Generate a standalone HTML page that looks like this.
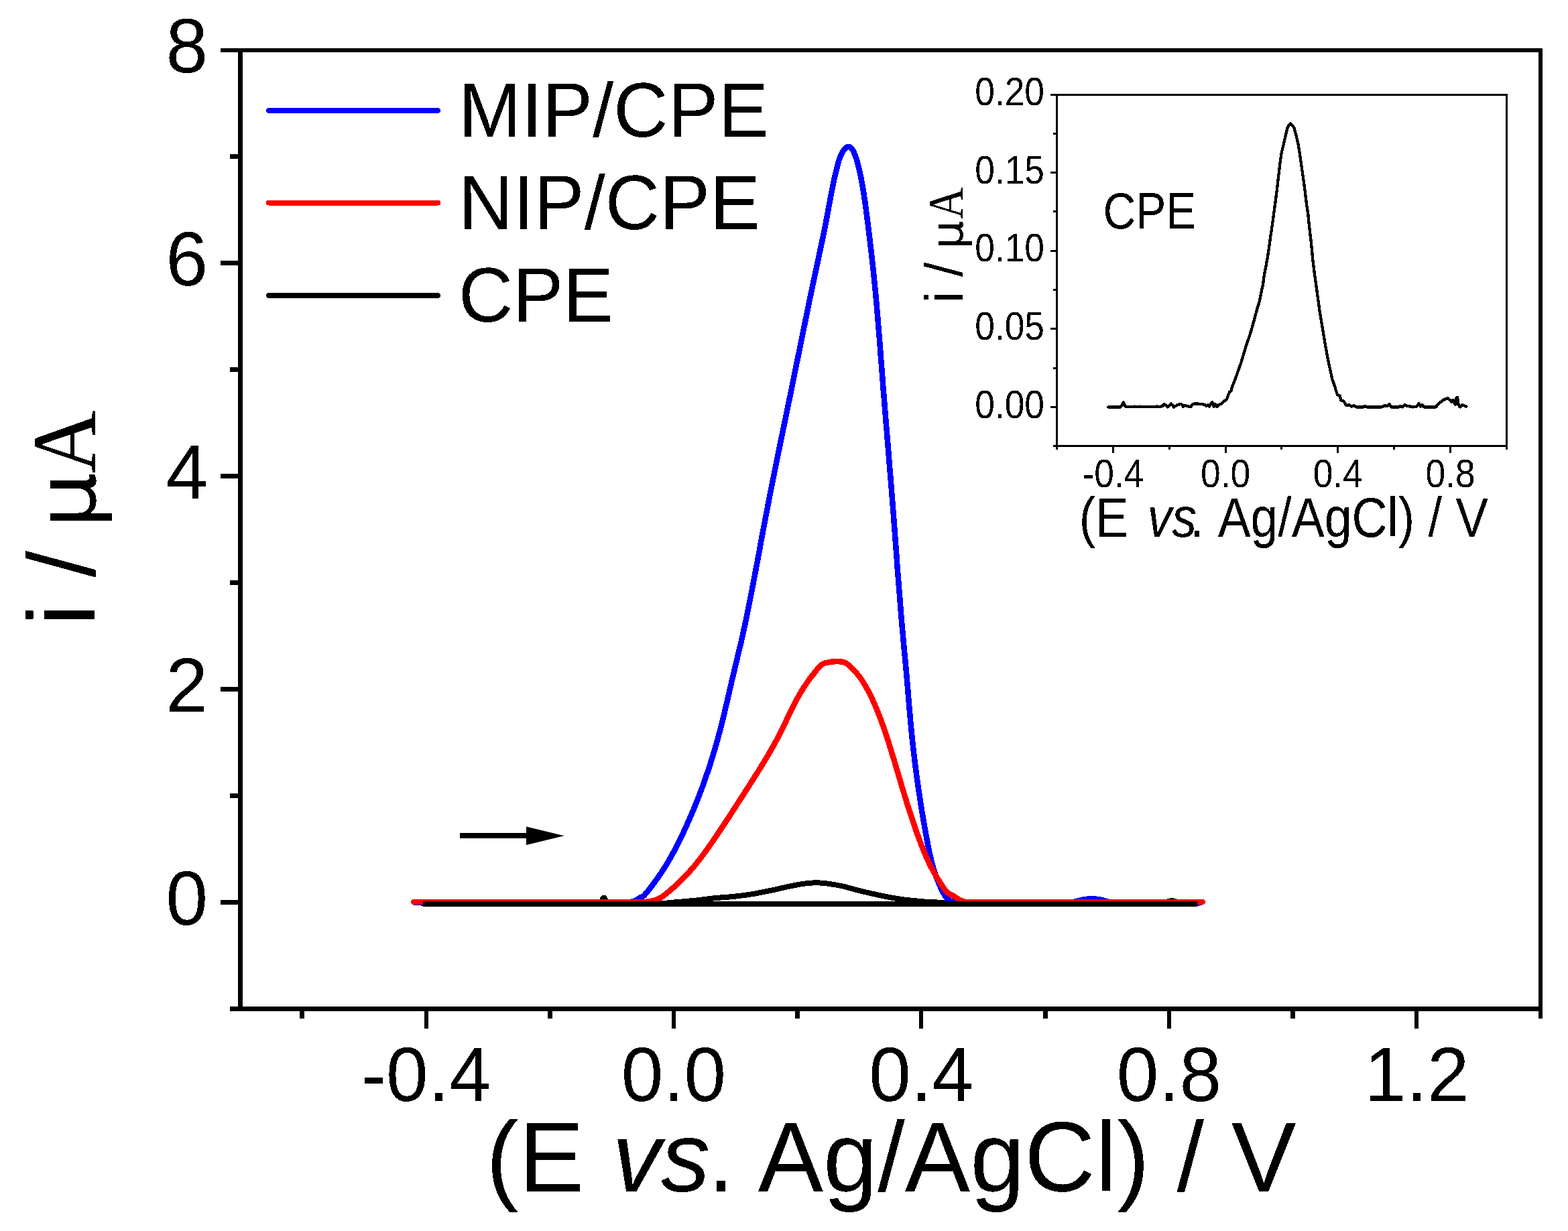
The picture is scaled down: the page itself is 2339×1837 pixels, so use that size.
<!DOCTYPE html>
<html lang="en"><head><meta charset="utf-8"><title>DPV: MIP/CPE, NIP/CPE, CPE</title>
<style>
html,body{margin:0;padding:0;background:#fff;}
body{width:2339px;height:1837px;overflow:hidden;}
svg{display:block;}
text{filter:url(#bin);font-family:"Liberation Sans",sans-serif;fill:#000;}
.ser{font-family:"Liberation Serif",serif;}
.dser{font-family:"DejaVu Sans","Liberation Sans",sans-serif;}
.ax{fill:#000;shape-rendering:crispEdges;}
.cv{fill:none;stroke-linecap:round;stroke-linejoin:round;shape-rendering:crispEdges;}
</style></head><body>
<svg width="2339" height="1837" viewBox="0 0 2339 1837">
<defs><filter id="bin" x="-5%" y="-5%" width="110%" height="110%" color-interpolation-filters="sRGB"><feComponentTransfer><feFuncA type="discrete" tableValues="0 1"/></feComponentTransfer></filter></defs>
<rect x="0" y="0" width="2339" height="1837" fill="#fff"/>
<g class="cv">
<path d="M631.0 1348.5 C718.3 1348.5 805.7 1349.6 893.0 1348.5 C894.8 1348.5 896.1 1346.4 897.3 1345.0 C898.7 1343.4 898.6 1339.6 900.7 1339.6 C902.8 1339.6 902.8 1343.4 904.1 1345.0 C905.2 1346.4 906.3 1348.4 908.0 1348.5 C930.3 1349.6 952.7 1348.7 975.0 1348.5 C980.0 1348.5 985.0 1348.2 990.0 1347.9 C997.1 1347.4 1004.2 1346.6 1011.3 1346.0 C1020.9 1345.1 1030.4 1344.4 1040.0 1343.4 C1049.2 1342.4 1058.4 1341.0 1067.6 1340.1 C1076.8 1339.2 1086.0 1338.8 1095.2 1337.8 C1104.4 1336.8 1113.6 1335.6 1122.8 1334.1 C1132.0 1332.6 1141.2 1330.7 1150.3 1328.8 C1159.5 1326.9 1168.7 1324.5 1177.9 1322.6 C1184.0 1321.3 1190.1 1320.1 1196.3 1319.1 C1200.2 1318.5 1204.1 1318.1 1208.0 1317.8 C1211.2 1317.5 1214.3 1317.3 1217.5 1317.3 C1220.7 1317.3 1223.8 1317.5 1227.0 1317.8 C1230.3 1318.1 1233.6 1318.4 1236.8 1318.9 C1243.0 1319.8 1249.1 1320.8 1255.2 1322.1 C1261.4 1323.4 1267.5 1325.3 1273.6 1326.9 C1279.7 1328.5 1285.8 1330.0 1292.0 1331.5 C1298.1 1332.9 1304.2 1334.3 1310.3 1335.6 C1316.4 1336.9 1322.5 1338.2 1328.7 1339.3 C1334.8 1340.4 1340.9 1341.5 1347.1 1342.3 C1353.2 1343.1 1359.4 1343.7 1365.5 1344.3 C1371.6 1344.9 1377.8 1345.5 1383.9 1345.9 C1389.3 1346.3 1394.6 1346.4 1400.0 1346.6 C1410.0 1347.1 1420.0 1347.8 1430.0 1348.0 C1453.3 1348.4 1476.7 1348.5 1500.0 1348.5 C1576.7 1348.6 1653.3 1349.3 1730.0 1348.5 C1733.4 1348.5 1736.7 1346.8 1740.0 1346.0 C1742.7 1345.3 1745.3 1344.0 1748.0 1344.0 C1750.7 1344.0 1753.4 1345.3 1756.0 1346.0 C1758.7 1346.8 1761.2 1348.3 1764.0 1348.5 C1771.3 1349.1 1778.7 1348.5 1786.0 1348.5" stroke="#000" stroke-width="8"/>
<path d="M619.0 1346.6 C712.7 1346.6 806.3 1346.6 900.0 1346.6 C910.0 1346.6 920.0 1346.8 930.0 1346.6 C934.2 1346.5 938.4 1346.3 942.5 1345.6 C944.6 1345.2 946.6 1344.4 948.5 1343.5 C950.5 1342.5 952.1 1341.1 954.0 1340.0 C956.1 1338.8 958.7 1338.3 960.5 1336.6 C964.8 1332.4 968.2 1327.4 971.9 1322.6 C975.4 1318.1 978.8 1313.4 982.1 1308.7 C985.3 1304.1 988.3 1299.5 991.3 1294.8 C994.2 1290.2 996.9 1285.6 999.6 1280.9 C1002.2 1276.3 1004.7 1271.7 1007.2 1267.0 C1009.6 1262.4 1012.0 1257.8 1014.3 1253.1 C1016.6 1248.5 1018.7 1243.8 1020.9 1239.1 C1023.0 1234.5 1025.1 1229.9 1027.2 1225.2 C1029.2 1220.6 1031.2 1216.0 1033.2 1211.3 C1035.1 1206.7 1037.0 1202.1 1038.9 1197.4 C1040.7 1192.8 1042.5 1188.1 1044.3 1183.5 C1046.1 1178.9 1047.8 1174.3 1049.5 1169.6 C1051.2 1165.0 1052.7 1160.3 1054.3 1155.6 C1055.9 1151.0 1057.5 1146.4 1059.0 1141.7 C1060.5 1137.1 1061.9 1132.4 1063.3 1127.8 C1064.7 1123.2 1066.1 1118.5 1067.5 1113.9 C1068.8 1109.3 1070.1 1104.6 1071.4 1100.0 C1072.7 1095.4 1073.9 1090.7 1075.1 1086.1 C1076.3 1081.5 1077.5 1076.8 1078.6 1072.2 C1079.7 1067.5 1080.8 1062.9 1081.9 1058.2 C1083.0 1053.6 1084.1 1048.9 1085.2 1044.3 C1086.3 1039.7 1087.3 1035.0 1088.4 1030.4 C1089.5 1025.8 1090.5 1021.1 1091.6 1016.5 C1092.7 1011.9 1093.8 1007.2 1094.9 1002.6 C1096.0 998.0 1097.1 993.3 1098.2 988.7 C1099.3 984.0 1100.4 979.4 1101.5 974.7 C1102.6 970.1 1103.8 965.4 1104.9 960.8 C1106.0 956.2 1107.0 951.5 1108.0 946.9 C1109.0 942.3 1110.1 937.6 1111.1 933.0 C1112.1 928.4 1113.0 923.7 1114.0 919.1 C1114.9 914.5 1115.9 909.8 1116.8 905.2 C1117.7 900.5 1118.7 895.9 1119.6 891.2 C1120.5 886.6 1121.4 881.9 1122.3 877.3 C1123.2 872.7 1124.0 868.0 1124.9 863.4 C1125.8 858.8 1126.7 854.1 1127.6 849.5 C1128.5 844.9 1129.3 840.2 1130.2 835.6 C1131.1 831.0 1132.0 826.3 1132.8 821.7 C1133.7 817.0 1134.4 812.4 1135.3 807.7 C1136.1 803.1 1137.0 798.4 1137.9 793.8 C1138.8 789.2 1139.7 784.5 1140.6 779.9 C1141.5 775.3 1142.3 770.6 1143.2 766.0 C1144.1 761.4 1145.0 756.7 1145.9 752.1 C1146.8 747.5 1147.7 742.8 1148.6 738.2 C1149.5 733.6 1150.4 728.9 1151.3 724.3 C1152.2 719.6 1153.2 715.0 1154.1 710.3 C1155.0 705.7 1156.0 701.0 1156.9 696.4 C1157.8 691.8 1158.8 687.1 1159.7 682.5 C1160.7 677.9 1161.6 673.2 1162.6 668.6 C1163.5 664.0 1164.5 659.3 1165.4 654.7 C1166.4 650.1 1167.3 645.4 1168.3 640.8 C1169.3 636.1 1170.2 631.5 1171.2 626.8 C1172.1 622.2 1173.1 617.5 1174.0 612.9 C1175.0 608.3 1175.9 603.6 1176.9 599.0 C1177.9 594.4 1178.8 589.7 1179.8 585.1 C1180.7 580.5 1181.7 575.8 1182.6 571.2 C1183.5 566.6 1184.5 561.9 1185.4 557.3 C1186.3 552.6 1187.2 548.0 1188.2 543.3 C1189.1 538.7 1190.1 534.0 1191.1 529.4 C1192.0 524.8 1193.0 520.1 1193.9 515.5 C1194.8 510.9 1195.8 506.2 1196.7 501.6 C1197.6 497.0 1198.6 492.3 1199.5 487.7 C1200.5 483.1 1201.4 478.4 1202.4 473.8 C1203.3 469.2 1204.3 464.5 1205.2 459.9 C1206.2 455.2 1207.1 450.6 1208.1 445.9 C1209.1 441.3 1210.0 436.6 1211.0 432.0 C1212.0 427.4 1212.9 422.7 1213.9 418.1 C1214.9 413.5 1215.9 408.8 1216.9 404.2 C1217.9 399.6 1218.9 394.9 1219.9 390.3 C1220.9 385.7 1221.8 381.0 1222.8 376.4 C1223.8 371.7 1224.8 367.1 1225.8 362.4 C1226.8 357.8 1227.7 353.1 1228.7 348.5 C1229.6 343.9 1230.6 339.2 1231.5 334.6 C1232.4 330.0 1233.2 325.3 1234.1 320.7 C1235.0 316.1 1235.8 311.4 1236.7 306.8 C1237.6 302.2 1238.4 297.5 1239.3 292.9 C1240.2 288.2 1241.1 283.6 1242.0 278.9 C1242.9 274.3 1243.9 269.6 1244.9 265.0 C1246.0 260.3 1247.1 255.7 1248.3 251.1 C1249.5 246.5 1250.6 241.7 1252.1 237.2 C1253.1 234.4 1254.4 231.7 1255.8 229.0 C1256.9 226.8 1258.0 224.6 1259.7 222.8 C1261.4 221.1 1263.3 218.8 1265.7 218.8 C1268.0 218.8 1269.8 221.1 1271.3 222.8 C1272.8 224.6 1273.5 226.9 1274.4 229.0 C1275.6 231.7 1276.7 234.4 1277.6 237.2 C1279.0 241.8 1280.1 246.4 1281.2 251.1 C1282.3 255.7 1283.3 260.4 1284.3 265.1 C1285.2 269.7 1286.1 274.4 1286.9 279.0 C1287.7 283.6 1288.4 288.3 1289.1 292.9 C1289.8 297.5 1290.5 302.2 1291.1 306.8 C1291.7 311.5 1292.3 316.1 1292.9 320.8 C1293.5 325.4 1294.1 330.1 1294.7 334.7 C1295.3 339.3 1295.8 344.0 1296.4 348.6 C1297.0 353.3 1297.5 357.9 1298.1 362.6 C1298.6 367.2 1299.2 371.9 1299.7 376.5 C1300.2 381.1 1300.8 385.8 1301.3 390.4 C1301.8 395.0 1302.3 399.7 1302.8 404.3 C1303.3 409.0 1303.7 413.6 1304.2 418.3 C1304.7 422.9 1305.1 427.6 1305.6 432.2 C1306.0 436.8 1306.5 441.5 1306.9 446.1 C1307.3 450.8 1307.7 455.4 1308.1 460.1 C1308.5 464.7 1308.9 469.4 1309.3 474.0 C1309.7 478.6 1310.0 483.3 1310.4 487.9 C1310.8 492.5 1311.2 497.2 1311.6 501.8 C1312.0 506.5 1312.3 511.1 1312.7 515.8 C1313.0 520.4 1313.4 525.1 1313.7 529.7 C1314.1 534.3 1314.4 539.0 1314.8 543.6 C1315.2 548.3 1315.5 552.9 1315.9 557.6 C1316.3 562.2 1316.6 566.9 1317.0 571.5 C1317.3 576.1 1317.6 580.8 1318.0 585.4 C1318.4 590.0 1318.8 594.7 1319.2 599.3 C1319.6 604.0 1319.9 608.6 1320.3 613.3 C1320.7 617.9 1321.0 622.6 1321.4 627.2 C1321.8 631.8 1322.2 636.5 1322.6 641.1 C1323.0 645.8 1323.3 650.4 1323.7 655.1 C1324.1 659.7 1324.5 664.4 1324.9 669.0 C1325.3 673.6 1325.6 678.3 1326.0 682.9 C1326.4 687.5 1326.7 692.2 1327.1 696.8 C1327.5 701.5 1327.9 706.1 1328.3 710.8 C1328.7 715.4 1329.0 720.1 1329.4 724.7 C1329.8 729.3 1330.1 734.0 1330.5 738.6 C1330.9 743.3 1331.2 747.9 1331.6 752.6 C1332.0 757.2 1332.3 761.9 1332.7 766.5 C1333.0 771.1 1333.4 775.8 1333.7 780.4 C1334.1 785.0 1334.5 789.7 1334.8 794.3 C1335.2 799.0 1335.4 803.6 1335.8 808.3 C1336.1 812.9 1336.5 817.6 1336.9 822.2 C1337.2 826.8 1337.6 831.5 1337.9 836.1 C1338.2 840.8 1338.5 845.4 1338.9 850.1 C1339.2 854.7 1339.6 859.4 1340.0 864.0 C1340.4 868.6 1340.7 873.3 1341.1 877.9 C1341.5 882.5 1341.8 887.2 1342.2 891.8 C1342.6 896.5 1342.9 901.1 1343.3 905.8 C1343.7 910.4 1344.0 915.1 1344.4 919.7 C1344.8 924.3 1345.2 929.0 1345.6 933.6 C1346.0 938.3 1346.5 942.9 1346.9 947.6 C1347.3 952.2 1347.7 956.9 1348.1 961.5 C1348.5 966.1 1349.0 970.8 1349.4 975.4 C1349.8 980.0 1350.3 984.7 1350.7 989.3 C1351.1 994.0 1351.6 998.6 1352.0 1003.3 C1352.4 1007.9 1352.8 1012.6 1353.2 1017.2 C1353.6 1021.8 1354.0 1026.5 1354.4 1031.1 C1354.8 1035.8 1355.1 1040.4 1355.5 1045.1 C1355.9 1049.7 1356.3 1054.4 1356.7 1059.0 C1357.1 1063.6 1357.5 1068.3 1357.9 1072.9 C1358.3 1077.5 1358.8 1082.2 1359.2 1086.8 C1359.7 1091.5 1360.1 1096.1 1360.6 1100.8 C1361.1 1105.4 1361.6 1110.1 1362.1 1114.7 C1362.6 1119.3 1363.2 1124.0 1363.7 1128.6 C1364.3 1133.3 1364.8 1137.9 1365.4 1142.6 C1366.0 1147.2 1366.6 1151.9 1367.2 1156.5 C1367.8 1161.1 1368.4 1165.8 1369.1 1170.4 C1369.8 1175.0 1370.5 1179.7 1371.2 1184.3 C1371.9 1189.0 1372.6 1193.6 1373.3 1198.3 C1374.0 1202.9 1374.7 1207.6 1375.5 1212.2 C1376.3 1216.8 1377.1 1221.5 1377.9 1226.1 C1378.7 1230.8 1379.5 1235.4 1380.3 1240.1 C1381.1 1244.7 1382.0 1249.4 1382.9 1254.0 C1383.8 1258.6 1384.6 1263.3 1385.6 1267.9 C1386.6 1272.5 1387.6 1277.2 1388.7 1281.8 C1389.8 1286.5 1391.0 1291.2 1392.4 1295.8 C1393.8 1300.5 1395.3 1305.1 1397.0 1309.7 C1398.8 1314.4 1400.7 1319.1 1402.8 1323.6 C1405.0 1328.4 1407.3 1333.1 1410.1 1337.6 C1411.3 1339.5 1412.8 1341.1 1414.5 1342.5 C1415.8 1343.6 1417.4 1344.4 1419.0 1345.0 C1421.3 1345.8 1423.6 1346.6 1426.0 1346.6 C1450.7 1347.1 1475.3 1346.6 1500.0 1346.6 C1532.7 1346.6 1565.3 1347.1 1598.0 1346.6 C1600.7 1346.6 1603.4 1345.6 1606.0 1345.0 C1609.7 1344.1 1613.3 1342.8 1617.0 1342.2 C1621.0 1341.6 1625.0 1341.5 1629.0 1341.5 C1633.0 1341.5 1637.0 1341.7 1641.0 1342.4 C1644.4 1343.0 1647.6 1344.4 1651.0 1345.2 C1653.3 1345.8 1655.6 1346.6 1658.0 1346.6 C1702.3 1347.0 1746.7 1346.6 1791.0 1346.6" stroke="#0000ff" stroke-width="8.5"/>
<path d="M617.0 1346.0 C711.3 1346.0 805.7 1346.0 900.0 1346.0 C916.7 1346.0 933.3 1346.1 950.0 1346.0 C955.3 1346.0 960.7 1346.1 966.0 1345.6 C969.4 1345.3 972.7 1344.5 976.0 1343.6 C978.4 1342.9 980.8 1342.1 983.0 1341.0 C985.5 1339.8 987.9 1338.3 990.1 1336.6 C995.8 1332.2 1001.3 1327.6 1006.6 1322.8 C1011.5 1318.4 1016.2 1313.7 1020.8 1309.0 C1025.1 1304.5 1029.3 1299.9 1033.3 1295.2 C1037.2 1290.7 1040.9 1286.1 1044.5 1281.4 C1048.0 1276.9 1051.3 1272.2 1054.6 1267.6 C1057.9 1263.0 1061.1 1258.4 1064.3 1253.8 C1067.4 1249.2 1070.5 1244.6 1073.6 1240.0 C1076.7 1235.4 1079.8 1230.8 1082.8 1226.2 C1085.8 1221.6 1088.7 1217.0 1091.7 1212.4 C1094.7 1207.8 1097.6 1203.2 1100.6 1198.6 C1103.6 1194.0 1106.5 1189.4 1109.5 1184.8 C1112.5 1180.2 1115.5 1175.6 1118.4 1171.0 C1121.3 1166.4 1124.2 1161.8 1127.1 1157.2 C1130.0 1152.6 1132.9 1148.0 1135.7 1143.4 C1138.5 1138.8 1141.3 1134.2 1144.1 1129.6 C1146.8 1125.0 1149.5 1120.4 1152.1 1115.8 C1154.7 1111.2 1157.2 1106.6 1159.6 1102.0 C1162.0 1097.4 1164.4 1092.8 1166.7 1088.2 C1169.0 1083.6 1171.1 1079.0 1173.3 1074.4 C1175.5 1069.8 1177.7 1065.2 1180.0 1060.6 C1182.3 1056.0 1184.5 1051.3 1186.9 1046.8 C1189.4 1042.1 1191.9 1037.5 1194.6 1033.0 C1197.4 1028.3 1200.4 1023.7 1203.5 1019.2 C1206.8 1014.5 1210.2 1009.8 1213.8 1005.4 C1217.7 1000.6 1221.0 995.2 1226.0 991.6 C1229.2 989.2 1233.6 988.9 1237.5 988.1 C1241.0 987.4 1244.7 987.1 1248.3 987.2 C1252.1 987.3 1256.2 987.0 1259.7 988.5 C1264.0 990.3 1267.5 993.7 1270.8 996.9 C1275.2 1001.2 1279.1 1005.9 1282.8 1010.8 C1286.1 1015.2 1288.9 1020.0 1291.7 1024.8 C1294.3 1029.3 1296.7 1034.0 1299.0 1038.7 C1301.3 1043.3 1303.4 1048.0 1305.4 1052.7 C1307.4 1057.3 1309.3 1061.9 1311.1 1066.6 C1312.9 1071.2 1314.6 1075.8 1316.3 1080.5 C1318.0 1085.1 1319.5 1089.8 1321.1 1094.5 C1322.7 1099.1 1324.2 1103.8 1325.7 1108.4 C1327.2 1113.1 1328.6 1117.7 1330.0 1122.4 C1331.4 1127.0 1332.9 1131.7 1334.3 1136.3 C1335.7 1140.9 1337.0 1145.6 1338.4 1150.2 C1339.8 1154.9 1341.2 1159.5 1342.6 1164.2 C1344.0 1168.8 1345.3 1173.5 1346.7 1178.1 C1348.1 1182.8 1349.6 1187.4 1351.0 1192.1 C1352.4 1196.7 1353.8 1201.4 1355.3 1206.0 C1356.8 1210.7 1358.3 1215.3 1359.9 1220.0 C1361.4 1224.6 1363.0 1229.3 1364.6 1233.9 C1366.2 1238.5 1367.8 1243.2 1369.5 1247.8 C1371.2 1252.5 1372.9 1257.2 1374.7 1261.8 C1376.5 1266.5 1378.4 1271.1 1380.4 1275.7 C1382.4 1280.4 1384.5 1285.1 1386.8 1289.7 C1389.1 1294.4 1391.6 1299.0 1394.2 1303.6 C1396.9 1308.3 1399.7 1313.0 1402.7 1317.6 C1405.9 1322.4 1408.7 1327.5 1412.7 1331.5 C1415.1 1333.9 1418.6 1334.8 1421.5 1336.5 C1423.0 1337.4 1424.5 1338.3 1426.0 1339.3 C1428.0 1340.6 1429.9 1342.2 1432.0 1343.2 C1434.2 1344.3 1436.6 1345.1 1439.0 1345.6 C1441.6 1346.1 1444.3 1346.0 1447.0 1346.0 C1464.7 1346.1 1482.3 1346.0 1500.0 1346.0 C1598.0 1346.0 1696.0 1346.0 1794.0 1346.0" stroke="#ff0000" stroke-width="8.5"/>
</g>
<rect class="ax" x="631" y="1345" width="1155" height="8"/>
<g class="ax">
<rect x="329" y="72" width="1972" height="6"/>
<rect x="355" y="72" width="7" height="1437"/>
<rect x="2295" y="72" width="6" height="1448"/>
<rect x="343" y="1502" width="1958" height="7"/>
<rect x="329" y="1343" width="27" height="7"/>
<rect x="343" y="1184" width="13" height="7"/>
<rect x="329" y="1025" width="27" height="7"/>
<rect x="343" y="866" width="13" height="7"/>
<rect x="329" y="707" width="27" height="7"/>
<rect x="343" y="548" width="13" height="7"/>
<rect x="329" y="389" width="27" height="7"/>
<rect x="343" y="230" width="13" height="7"/>
<rect x="447" y="1505" width="7" height="15"/>
<rect x="633" y="1505" width="6" height="30"/>
<rect x="817" y="1505" width="7" height="15"/>
<rect x="1002" y="1505" width="6" height="30"/>
<rect x="1186" y="1505" width="7" height="15"/>
<rect x="1371" y="1505" width="6" height="30"/>
<rect x="1556" y="1505" width="7" height="15"/>
<rect x="1741" y="1505" width="6" height="30"/>
<rect x="1925" y="1505" width="7" height="15"/>
<rect x="2110" y="1505" width="6" height="30"/>
</g>
<text transform="translate(310 1379.5) scale(1 1.02)" font-size="112.5" text-anchor="end">0</text>
<text transform="translate(310 1061.62) scale(1 1.02)" font-size="112.5" text-anchor="end">2</text>
<text transform="translate(310 743.74) scale(1 1.02)" font-size="112.5" text-anchor="end">4</text>
<text transform="translate(310 425.86) scale(1 1.02)" font-size="112.5" text-anchor="end">6</text>
<text transform="translate(310 107.98) scale(1 1.02)" font-size="112.5" text-anchor="end">8</text>
<text transform="translate(635.57 1643) scale(1 1.02)" font-size="112.5" text-anchor="middle">-0.4</text>
<text transform="translate(1005 1643) scale(1 1.02)" font-size="112.5" text-anchor="middle">0.0</text>
<text transform="translate(1374.43 1643) scale(1 1.02)" font-size="112.5" text-anchor="middle">0.4</text>
<text transform="translate(1743.86 1643) scale(1 1.02)" font-size="112.5" text-anchor="middle">0.8</text>
<text transform="translate(2113.28 1643) scale(1 1.02)" font-size="112.5" text-anchor="middle">1.2</text>
<text transform="translate(1329.5 1778) scale(1 1.02)" font-size="146" text-anchor="middle">(E <tspan font-style="italic" dx="1.7">vs</tspan><tspan dx="-4.2">.</tspan><tspan dx="2.5"> Ag/AgCl) / V</tspan></text>
<text transform="translate(141.6 933.4) rotate(-90)" font-size="143.5"><tspan font-size="143.5" textLength="111.6" lengthAdjust="spacingAndGlyphs">i /</tspan> <tspan class="dser" x="144.7" font-size="120.5" textLength="83.95" lengthAdjust="spacingAndGlyphs">μ</tspan><tspan class="ser" x="227.1" font-size="135.2" textLength="93.86" lengthAdjust="spacingAndGlyphs">A</tspan></text>
<g class="cv" stroke-width="8">
<path d="M401 165 H653" stroke="#0000ff"/>
<path d="M401 302.5 H653" stroke="#ff0000"/>
<path d="M401 441 H653" stroke="#000"/>
</g>
<text transform="translate(684 203.7) scale(1 1.026)" font-size="112.5">MIP/CPE</text>
<text transform="translate(684 342) scale(1 1.026)" font-size="112.5">NIP/CPE</text>
<text transform="translate(684 479.6) scale(1 1.026)" font-size="112.5">CPE</text>
<rect class="ax" x="686" y="1243" width="100" height="8"/>
<path d="M785 1233.5 L841.5 1247.3 L785 1261 Z" fill="#000"/>
<g class="ax">
<rect x="1567" y="140" width="682" height="3"/>
<rect x="1575" y="140" width="3" height="531"/>
<rect x="2246" y="140" width="3" height="531"/>
<rect x="1571" y="664" width="678" height="3"/>
<rect x="1567" y="606" width="9" height="3"/>
<rect x="1571" y="548" width="5" height="3"/>
<rect x="1567" y="489" width="9" height="3"/>
<rect x="1571" y="431" width="5" height="3"/>
<rect x="1567" y="373" width="9" height="3"/>
<rect x="1571" y="314" width="5" height="3"/>
<rect x="1567" y="256" width="9" height="3"/>
<rect x="1571" y="198" width="5" height="3"/>
<rect x="1659" y="666" width="3" height="10"/>
<rect x="1743" y="666" width="3" height="5"/>
<rect x="1827" y="666" width="3" height="10"/>
<rect x="1910" y="666" width="3" height="5"/>
<rect x="1994" y="666" width="3" height="10"/>
<rect x="2078" y="666" width="3" height="5"/>
<rect x="2162" y="666" width="3" height="10"/>
</g>
<path class="cv" d="M1653.1 607.5 L1671.4 607.5 L1673.4 605.0 L1675.9 600.5 L1677.9 605.0 L1680.0 607.3 L1690.6 607.3 L1692.6 606.5 L1695.1 607.3 L1698.7 607.0 L1700.7 606.5 L1702.7 607.3 L1705.7 606.7 L1712.8 606.7 L1714.9 607.3 L1724.0 607.3 L1726.0 606.5 L1728.0 607.3 L1734.1 606.0 L1736.6 603.3 L1739.1 604.5 L1741.7 607.5 L1745.2 604.5 L1747.2 602.5 L1749.7 605.0 L1750.8 607.5 L1756.3 604.5 L1761.4 602.7 L1763.9 604.5 L1764.9 607.0 L1767.4 605.0 L1771.5 606.0 L1776.0 607.3 L1778.1 604.5 L1779.6 602.7 L1785.7 602.5 L1793.7 603.0 L1797.8 604.5 L1799.8 606.0 L1801.8 604.5 L1803.9 606.7 L1806.4 602.5 L1808.4 600.3 L1809.9 604.5 L1810.9 607.0 L1812.5 603.0 L1815.0 607.0 L1818.0 604.0 L1822.1 602.5 L1824.1 600.0 L1827.1 597.9 L1830.2 595.4 L1832.2 589.3 L1834.2 584.8 L1837.2 582.3 L1837.4 579.0 L1842.5 566.1 L1847.0 553.2 L1851.6 540.3 L1855.4 527.4 L1859.3 514.6 L1863.8 501.7 L1867.7 488.8 L1871.3 475.9 L1874.7 463.0 L1878.6 450.2 L1881.2 437.3 L1884.0 424.4 L1885.7 411.5 L1890.6 385.8 L1894.4 360.0 L1894.7 356.7 L1897.5 338.3 L1900.0 319.8 L1902.5 301.4 L1904.9 283.0 L1907.0 264.5 L1909.1 246.1 L1911.7 227.6 L1914.8 215.3 L1917.5 203.0 L1920.5 190.7 L1922.6 186.6 L1925.1 184.5 L1927.5 186.6 L1930.4 190.7 L1933.7 203.0 L1936.5 215.3 L1938.6 227.6 L1941.2 246.1 L1943.9 264.5 L1946.4 283.0 L1948.6 301.4 L1951.3 319.8 L1953.1 338.3 L1955.3 356.7 L1956.6 369.0 L1958.1 385.8 L1961.3 411.5 L1964.9 437.3 L1968.4 463.0 L1972.6 488.8 L1976.9 514.6 L1981.7 540.3 L1987.4 566.1 L1992.0 579.0 L1992.1 580.3 L1995.2 589.4 L1998.7 590.5 L2000.2 597.5 L2004.3 598.6 L2008.3 605.1 L2012.4 604.1 L2016.4 606.6 L2020.0 605.1 L2023.0 607.4 L2033.6 607.4 L2036.1 606.1 L2039.2 607.4 L2060.9 607.4 L2066.0 605.1 L2069.0 606.1 L2072.6 603.1 L2075.1 607.4 L2086.2 607.4 L2089.2 606.1 L2092.3 607.4 L2095.8 604.1 L2098.9 606.1 L2104.4 606.6 L2107.4 607.4 L2113.5 606.6 L2116.6 602.1 L2119.1 606.6 L2121.6 604.1 L2124.1 607.4 L2141.8 607.4 L2145.9 602.6 L2152.0 597.5 L2156.0 595.5 L2159.5 594.0 L2163.1 597.0 L2165.1 599.6 L2167.6 597.0 L2170.7 603.6 L2172.2 594.5 L2174.0 593.0 L2175.7 604.6 L2178.3 607.4 L2181.8 604.1 L2185.8 606.1 L2187.4 606.6" stroke="#000" stroke-width="4.3"/>
<text transform="translate(1558 623.6) scale(1 1.1)" font-size="53.3" text-anchor="end">0.00</text>
<text transform="translate(1558 507) scale(1 1.1)" font-size="53.3" text-anchor="end">0.05</text>
<text transform="translate(1558 390.4) scale(1 1.1)" font-size="53.3" text-anchor="end">0.10</text>
<text transform="translate(1558 273.8) scale(1 1.1)" font-size="53.3" text-anchor="end">0.15</text>
<text transform="translate(1558 157.2) scale(1 1.1)" font-size="53.3" text-anchor="end">0.20</text>
<text transform="translate(1660.34 726.8) scale(1 1.1)" font-size="53.3" text-anchor="middle">-0.4</text>
<text transform="translate(1828.1 726.8) scale(1 1.1)" font-size="53.3" text-anchor="middle">0.0</text>
<text transform="translate(1995.86 726.8) scale(1 1.1)" font-size="53.3" text-anchor="middle">0.4</text>
<text transform="translate(2163.62 726.8) scale(1 1.1)" font-size="53.3" text-anchor="middle">0.8</text>
<text transform="translate(1918 800.8) scale(1 1.13)" font-size="73.35" text-anchor="middle"><tspan dx="-3">(E</tspan> <tspan font-style="italic" dx="8">vs</tspan><tspan dx="-9.5">.</tspan><tspan dx="4.5"> Ag/AgCl) / V</tspan></text>
<text transform="translate(1436 452.1) rotate(-90)" font-size="80"><tspan font-size="80" textLength="60.6" lengthAdjust="spacingAndGlyphs">i /</tspan> <tspan class="dser" x="80.2" font-size="66.0" textLength="42.9" lengthAdjust="spacingAndGlyphs">μ</tspan><tspan class="ser" x="125.4" font-size="74.56" textLength="46.57" lengthAdjust="spacingAndGlyphs">A</tspan></text>
<text transform="translate(1645.6 340.7) scale(1 1.138)" font-size="67.5">CPE</text>
</svg>
</body></html>
